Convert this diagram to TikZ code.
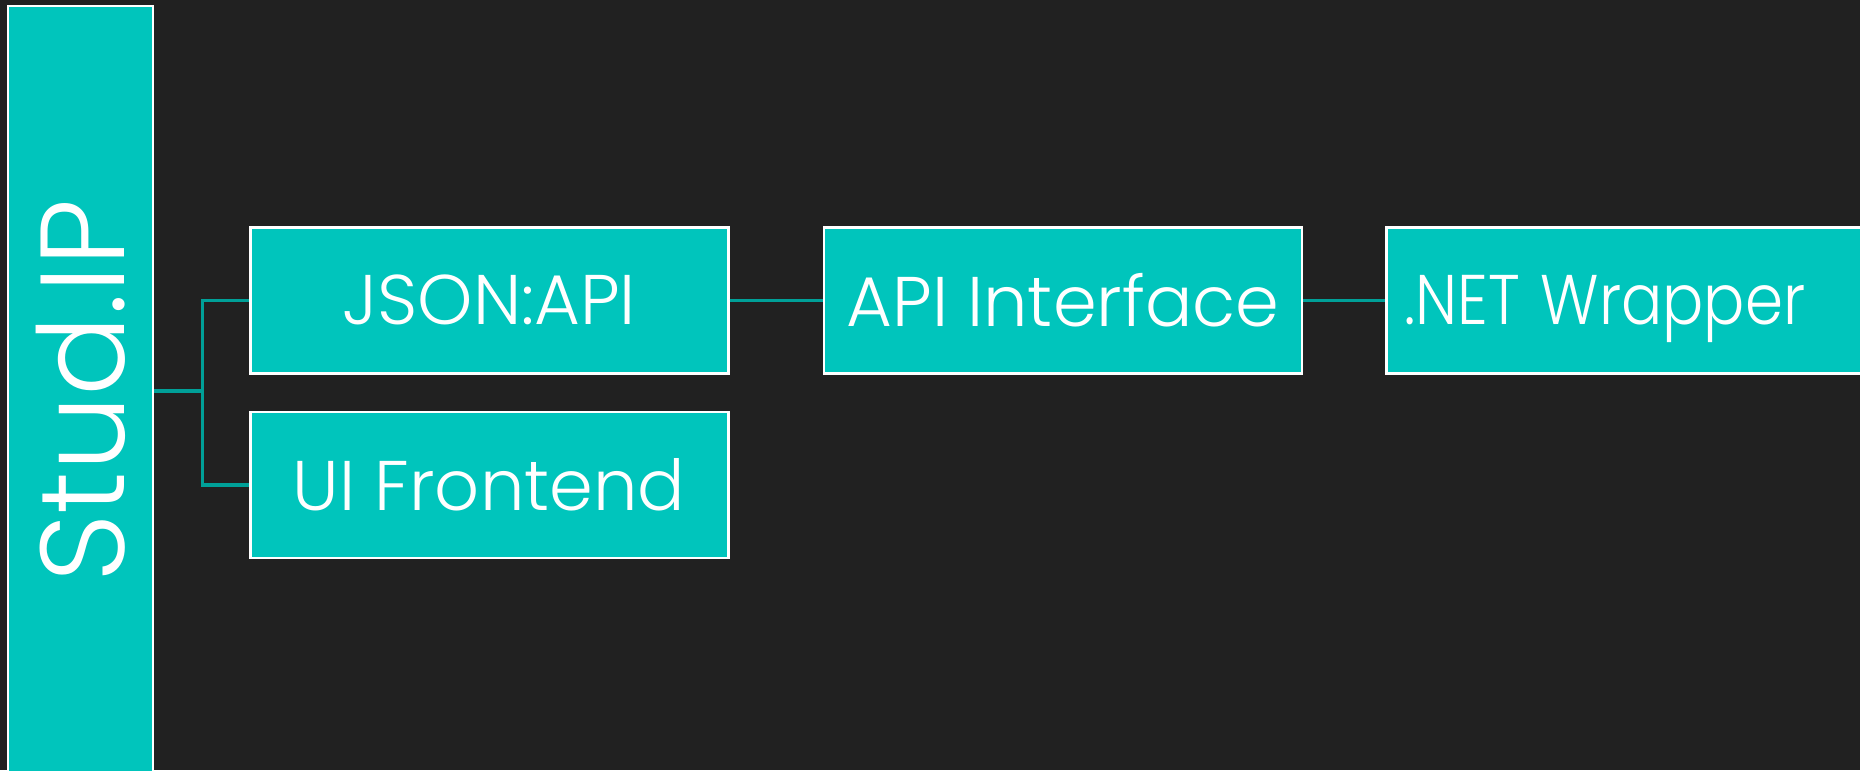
\documentclass[tikz,border=0pt]{standalone}
\usepackage{fontspec}
\setmainfont{Poppins}[UprightFont=* Light]
\usetikzlibrary{positioning}
\definecolor{bgdark}{RGB}{33,33,33}
\definecolor{tealfill}{RGB}{0,197,188}
\definecolor{tealline}{RGB}{0,160,152}

\begin{document}
\begin{tikzpicture}
  [n/.style={draw=white,line width=0.8pt,fill=tealfill,text=white,
      minimum width=4.78cm,minimum height=1.46cm,inner sep=0pt,
      font=\fontsize{20}{24}\selectfont},
   wide/.style={n,text width=5.4cm,align=left,inner xsep=0.18cm,
      text depth=0pt},
   root/.style={n,rotate=90,minimum width=7.7cm,minimum height=1.45cm,
      font=\fontsize{34}{38}\selectfont},
   link/.style={draw=tealline,line width=0.9pt}]
  \fill[bgdark] (0,0) rectangle (18.6,7.7);
  \useasboundingbox (0,0) rectangle (18.6,7.7);
  \clip (0,0) rectangle (18.6,7.7);
  \node[root] (stud) at (0.805,3.79) {Stud.IP};
  \matrix[column sep=0.93cm, row sep=0.36cm, inner sep=0pt,
    anchor=north west] (M) at (2.48,5.45) {
    \node[n] (json) {JSON:API}; &
    \node[n] (api) {API Interface}; &[-1.1mm]
    \node[wide] (net) {\scalebox{0.87}[1]{.NET Wrapper}}; \\
    \node[n] (ui) {UI Frontend}; \\
  };
  \coordinate[right=0.48cm of stud.south] (fork);
  \draw[link] (stud.south) -- (fork) |- (json.west);
  \draw[link] (fork) |- (ui.west);
  \draw[link] (json) -- (api);
  \draw[link] (api) -- (net);
\end{tikzpicture}
\end{document}
